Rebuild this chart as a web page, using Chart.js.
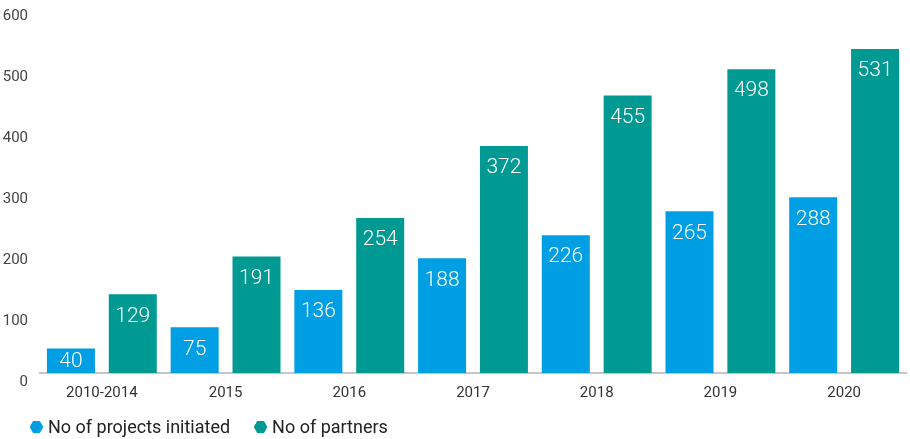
<!DOCTYPE html>
<html>
<head>
<meta charset="utf-8">
<script src="https://cdn.jsdelivr.net/npm/chart.js@4.4.1/dist/chart.umd.min.js"></script>
<style>
  html, body { margin: 0; padding: 0; background: #fff; }
  #wrap { width: 910px; height: 439px; position: relative; }
</style>
</head>
<body>
<div id="wrap"><canvas id="chart"></canvas></div>
<script>
// DATA
const categories = ["2010-2014", "2015", "2016", "2017", "2018", "2019", "2020"];
const projects = [40, 75, 136, 188, 226, 265, 288];
const partners = [129, 191, 254, 372, 455, 498, 531];
const seriesNames = ["No of projects initiated", "No of partners"];
const seriesColors = ["#009fe3", "#009a93"];

const FONT = "Roboto, 'Liberation Sans', sans-serif";

// hexagon marker for legend
function hexagon(ctx, cx, cy, r, color) {
  ctx.beginPath();
  for (let i = 0; i < 6; i++) {
    const a = Math.PI / 3 * i;
    const px = cx + r * Math.cos(a);
    const py = cy + r * Math.sin(a);
    if (i === 0) ctx.moveTo(px, py); else ctx.lineTo(px, py);
  }
  ctx.closePath();
  ctx.fillStyle = color;
  ctx.fill();
}

// VALUE LABELS INSIDE BARS
const barLabels = {
  id: "barLabels",
  afterDatasetsDraw(chart) {
    const ctx = chart.ctx;
    ctx.save();
    ctx.font = "300 21px " + FONT;
    ctx.fillStyle = "#ffffff";
    ctx.textAlign = "center";
    ctx.textBaseline = "middle";
    chart.data.datasets.forEach((ds, di) => {
      chart.getDatasetMeta(di).data.forEach((bar, i) => {
        let y = bar.y + 21;
        if (y > bar.base - 12) y = (bar.y + bar.base) / 2;
        ctx.fillText(ds.data[i], bar.x, y + 1);
      });
    });
    ctx.restore();
  }
};

// LEGEND (bottom left, hexagon markers)
const hexLegend = {
  id: "hexLegend",
  afterDraw(chart) {
    const ctx = chart.ctx;
    ctx.save();
    ctx.font = "18px " + FONT;
    ctx.textBaseline = "middle";
    ctx.textAlign = "left";
    let x = 30;
    const y = 427;
    chart.data.datasets.forEach(ds => {
      hexagon(ctx, x + 6.5, y, 6.8, ds.backgroundColor);
      x += 18;
      ctx.fillStyle = "#222";
      ctx.fillText(ds.label, x, y + 1);
      x += ctx.measureText(ds.label).width + 24;
    });
    ctx.restore();
  }
};

new Chart(document.getElementById("chart"), {
  type: "bar",
  data: {
    labels: categories,
    datasets: [
      { label: seriesNames[0], data: projects, backgroundColor: seriesColors[0] },
      { label: seriesNames[1], data: partners, backgroundColor: seriesColors[1] }
    ]
  },
  options: {
    responsive: true,
    maintainAspectRatio: false,
    animation: false,
    devicePixelRatio: 1,
    categoryPercentage: 1,
    barPercentage: 0.776,
    layout: { padding: { left: 0, right: 4, top: 7, bottom: 36 } },
    plugins: {
      legend: { display: false },
      tooltip: { enabled: false }
    },
    scales: {
      x: {
        grid: { display: false },
        border: { display: true, color: "#c6c6c6", width: 2 },
        ticks: { color: "#333", font: { family: FONT, size: 15 }, padding: 3, maxRotation: 0 },
        afterFit: s => { s.height = 30; s.paddingLeft = 0; s.paddingRight = 0; }
      },
      y: {
        min: 0,
        max: 600,
        grid: { display: false },
        border: { display: false },
        ticks: {
          stepSize: 100,
          color: "#444",
          font: { family: FONT, size: 15 },
          padding: 4,
          labelOffset: 9
        },
        afterFit: s => { s.width = 40; s.paddingTop = 0; s.paddingBottom = 0; }
      }
    }
  },
  plugins: [barLabels, hexLegend]
});
</script>
</body>
</html>
